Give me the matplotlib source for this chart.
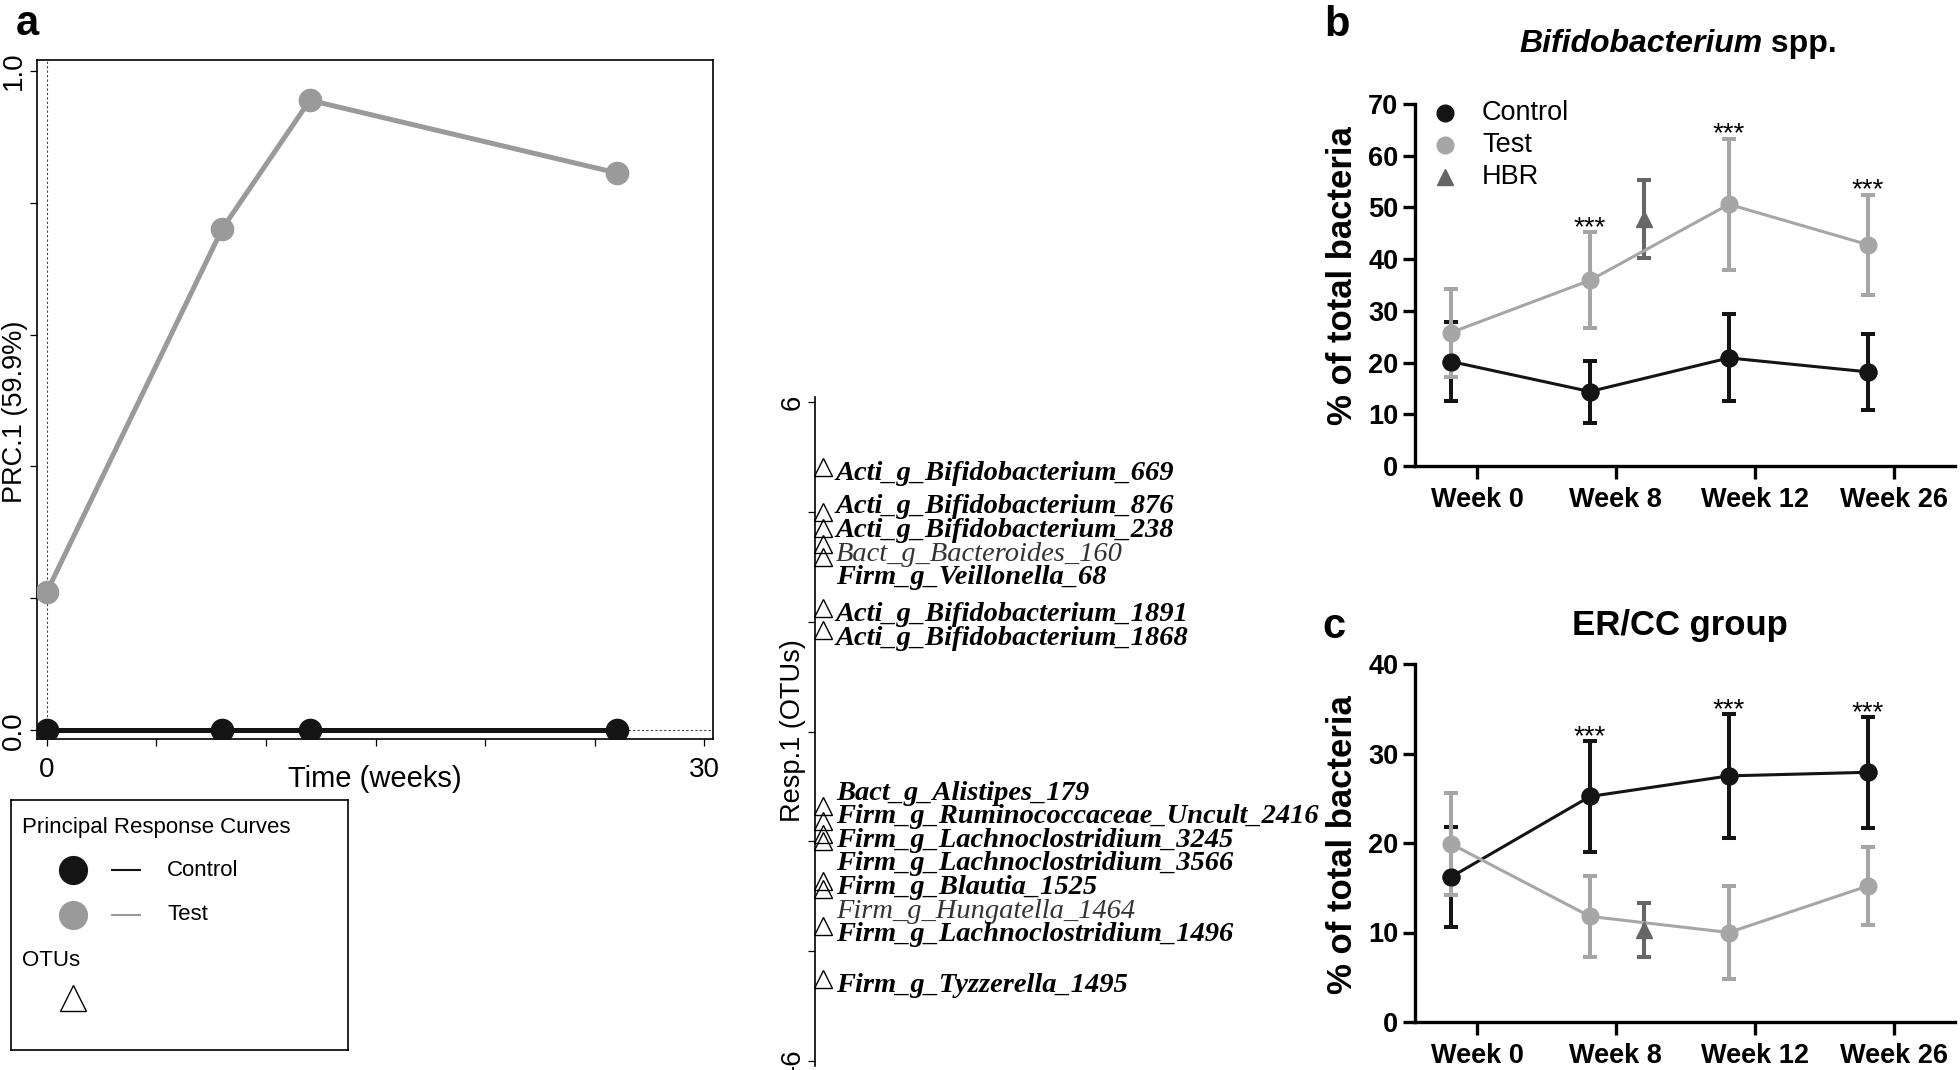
import numpy as np
import matplotlib.pyplot as plt

plt.rcParams['font.family'] = ['Liberation Sans', 'DejaVu Sans']

W, H = 1960, 1070

# panel a: principal response curves
PRC_WEEKS = [0, 8, 12, 26]
PRC_CONTROL = [0.0, 0.0, 0.0, 0.0]
PRC_TEST = [0.21, 0.76, 0.955, 0.845]

OTU_NAMES = ['Acti_g_Bifidobacterium_669', 'Acti_g_Bifidobacterium_876',
             'Acti_g_Bifidobacterium_238', 'Bact_g_Bacteroides_160',
             'Firm_g_Veillonella_68', 'Acti_g_Bifidobacterium_1891',
             'Acti_g_Bifidobacterium_1868', 'Bact_g_Alistipes_179',
             'Firm_g_Ruminococcaceae_Uncult_2416', 'Firm_g_Lachnoclostridium_3245',
             'Firm_g_Lachnoclostridium_3566', 'Firm_g_Blautia_1525',
             'Firm_g_Hungatella_1464', 'Firm_g_Lachnoclostridium_1496',
             'Firm_g_Tyzzerella_1495']
OTU_SCORES = [4.83, 4.00, 3.72, 3.42, 3.18, 2.25, 1.85,
              -1.35, -1.63, -1.87, -1.99, -2.72, -2.88, -3.55, -4.51]
OTU_WEAK = ['Bact_g_Bacteroides_160', 'Firm_g_Hungatella_1464']

# panels b and c
WEEK_LABELS = ['Week 0', 'Week 8', 'Week 12', 'Week 26']
GROUPS = ['Control', 'Test', 'HBR']

BIF_CONTROL = [20.2, 14.4, 20.9, 18.2]
BIF_CONTROL_ERR = [7.6, 6.0, 8.4, 7.4]
BIF_TEST = [25.8, 35.9, 50.6, 42.8]
BIF_TEST_ERR = [8.5, 9.3, 12.7, 9.7]
BIF_HBR = [47.8]
BIF_HBR_ERR = [7.5]
BIF_STARS = [False, True, True, True]      # marked on Test

ER_CONTROL = [16.2, 25.2, 27.5, 27.9]
ER_CONTROL_ERR = [5.6, 6.2, 6.9, 6.2]
ER_TEST = [19.9, 11.8, 10.0, 15.2]
ER_TEST_ERR = [5.7, 4.5, 5.2, 4.4]
ER_HBR = [10.3]
ER_HBR_ERR = [3.0]
ER_STARS = [False, True, True, True]       # marked on Control

BLACK = '#141414'
GREY = '#a6a6a6'
PRC_GREY = '#9a9a9a'
DARK = '#666666'


def add_ax(fig, left, top, right, bottom):
    return fig.add_axes([left / W, 1 - bottom / H, (right - left) / W, (bottom - top) / H])


def fig_text(fig, x, y, s, **kw):
    return fig.text(x / W, 1 - y / H, s, **kw)


def stack_labels(values, gap):
    # keep labels at least `gap` apart, moving them as little as possible
    order = np.argsort(values)[::-1]
    v = np.asarray(values, float)[order]
    w = v + gap * np.arange(len(v))
    blocks = []
    for x in w:
        blocks.append([x, 1])
        while len(blocks) > 1 and blocks[-1][0] / blocks[-1][1] > blocks[-2][0] / blocks[-2][1]:
            s, c = blocks.pop()
            blocks[-1][0] += s
            blocks[-1][1] += c
    fitted = np.concatenate([[s / c] * c for s, c in blocks])
    pos = fitted - gap * np.arange(len(v))
    out = np.empty_like(pos)
    out[order] = pos
    return out


def group_panel(ax, control, control_err, test, test_err, hbr, hbr_err, stars, starred, ymax):
    x = np.arange(len(WEEK_LABELS))
    off = 0.187
    style = dict(lw=2.2, elinewidth=2.9, capsize=5, capthick=2.9, ms=12)
    ax.errorbar(x - off, control, yerr=control_err, color=BLACK, marker='o', zorder=2, **style)
    ax.errorbar(x - off, test, yerr=test_err, color=GREY, marker='o', zorder=3, **style)
    ax.plot(x - off, control, ls='none', marker='o', ms=12, color=BLACK, zorder=4)
    ax.errorbar([1 + 0.2], hbr, yerr=hbr_err, color=DARK, marker='^', ls='none', zorder=3, **style)

    if starred == 'test':
        top = np.array(test) + np.array(test_err)
    else:
        top = np.array(control) + np.array(control_err)
    for i, s in enumerate(stars):
        if s:
            ax.annotate('***', (x[i] - off, top[i]), xytext=(0, -6.5), textcoords='offset points',
                        ha='center', va='bottom', fontsize=20)

    ax.set_xlim(-0.446, 3.44)
    ax.set_ylim(0, ymax)
    ax.set_xticks(x)
    ax.set_xticklabels(WEEK_LABELS, fontsize=19.5, fontweight='bold')
    ax.set_yticks(np.arange(0, ymax + 1, 10))
    ax.set_yticklabels([str(v) for v in range(0, ymax + 1, 10)], fontsize=19.5, fontweight='bold')
    ax.tick_params(axis='y', width=2.4, length=9, pad=3)
    ax.tick_params(axis='x', width=2.4, length=9, pad=6)
    for side in ['top', 'right']:
        ax.spines[side].set_visible(False)
    for side in ['left', 'bottom']:
        ax.spines[side].set_linewidth(2.4)


fig = plt.figure(figsize=(W / 100, H / 100), dpi=100)

# ---- panel a: PRC curves
ax = add_ax(fig, 37, 60, 713, 739)
ax.axvline(0, color='#444444', lw=0.8, ls=(0, (2, 2)))
ax.axhline(0, color='#444444', lw=0.8, ls=(0, (2, 2)))
ax.plot(PRC_WEEKS, PRC_CONTROL, color=BLACK, lw=3.6, marker='o', ms=16, zorder=3)
ax.plot(PRC_WEEKS, PRC_TEST, color=PRC_GREY, lw=3.6, marker='o', ms=16, zorder=3)
ax.set_xlim(-0.45, 30.4)
ax.set_ylim(-0.013, 1.016)
ax.set_xticks(np.arange(0, 31, 5))
ax.set_xticklabels(['0', '', '', '', '', '', '30'], fontsize=20)
ax.set_yticks(np.arange(0, 1.01, 0.2))
ax.set_yticklabels(['0.0', '', '', '', '', '1.0'], fontsize=20, rotation=90, va='center')
ax.tick_params(axis='y', length=5, width=0.9, pad=2)
ax.tick_params(axis='x', length=5, width=0.9, pad=8)
for sp in ax.spines.values():
    sp.set_linewidth(1.2)
ax.set_xlabel('Time (weeks)', fontsize=21)
ax.xaxis.set_label_coords(0.5, -0.038)
fig_text(fig, 15, 412, 'PRC.1 (59.9%)', fontsize=19.5, rotation=90, ha='center', va='center')

# ---- panel a: OTU response axis
ax2 = add_ax(fig, 815, 397, 1300, 1066)
ax2.set_ylim(-6.1, 6.1)
ax2.set_xlim(0, 1)
for side in ['top', 'right', 'bottom']:
    ax2.spines[side].set_visible(False)
ax2.spines['left'].set_linewidth(1.2)
ax2.set_xticks([])
ax2.set_yticks(np.arange(-6, 7, 2))
ax2.set_yticklabels(['-6', '', '', '', '', '', '6'], fontsize=20, rotation=90, va='center')
ax2.tick_params(axis='y', length=5, width=0.9, pad=2)
fig_text(fig, 793, 731, 'Resp.1 (OTUs)', fontsize=19.5, rotation=90, ha='center', va='center')
ax2.plot(np.full(len(OTU_SCORES), 0.017), OTU_SCORES, ls='none', marker='^', ms=13,
         mfc='none', mec='black', mew=1.0, clip_on=False)
label_y = stack_labels(OTU_SCORES, 0.43)
for name, yy in zip(OTU_NAMES, label_y):
    weak = name in OTU_WEAK
    ax2.text(0.043, yy - 0.13, name, ha='left', va='center', fontsize=20.5,
             family='Liberation Serif', style='italic',
             fontweight='normal' if weak else 'bold', color='#333333' if weak else 'black')

# ---- panel a: legend box
lg = add_ax(fig, 11, 800, 348, 1050)
lg.set_xlim(0, 337)
lg.set_ylim(250, 0)
lg.set_xticks([])
lg.set_yticks([])
for sp in lg.spines.values():
    sp.set_linewidth(1.2)
lg.text(11, 28, 'Principal Response Curves', va='center', fontsize=16)
lg.plot([62], [70], 'o', color=BLACK, ms=20)
lg.plot([101, 129], [70, 70], color=BLACK, lw=1.5)
lg.text(156, 70, 'Control', va='center', fontsize=16)
lg.plot([62], [115], 'o', color=PRC_GREY, ms=20)
lg.plot([101, 129], [115, 115], color=PRC_GREY, lw=1.5)
lg.text(156, 115, 'Test', va='center', fontsize=16)
lg.text(11, 161, 'OTUs', va='center', fontsize=16)
lg.plot([62], [198], '^', mfc='none', mec='black', mew=1.0, ms=19)

# ---- panel b
B_TOP, B_BOT = 104, 466
axb = add_ax(fig, 1415, B_TOP, 1955, B_BOT)
group_panel(axb, BIF_CONTROL, BIF_CONTROL_ERR, BIF_TEST, BIF_TEST_ERR,
            BIF_HBR, BIF_HBR_ERR, BIF_STARS, 'test', 70)
fig_text(fig, 1342, 276, '% of total bacteria', fontsize=25, fontweight='bold',
         rotation=90, ha='center', va='center')

# legend of panel b, drawn by hand
for name, marker, color, row in zip(GROUPS, ['o', 'o', '^'], [BLACK, GREY, DARK], [113, 145, 177]):
    yy = (B_BOT - row) / (B_BOT - B_TOP)
    axb.plot([30 / 540], [yy], marker=marker, ms=12, color=color, ls='none',
             transform=axb.transAxes, clip_on=False)
    axb.text(67 / 540, yy, name, transform=axb.transAxes, ha='left', va='center', fontsize=19.5)

# title with an italic genus name
t1 = fig_text(fig, 0, 44, 'Bifidobacterium', fontsize=23, fontweight='bold', style='italic', va='center')
t2 = fig_text(fig, 0, 44, ' spp.', fontsize=23, fontweight='bold', va='center')

# ---- panel c
C_TOP, C_BOT = 664, 1022
axc = add_ax(fig, 1415, C_TOP, 1955, C_BOT)
group_panel(axc, ER_CONTROL, ER_CONTROL_ERR, ER_TEST, ER_TEST_ERR,
            ER_HBR, ER_HBR_ERR, ER_STARS, 'control', 40)
fig_text(fig, 1342, 845, '% of total bacteria', fontsize=25, fontweight='bold',
         rotation=90, ha='center', va='center')
fig_text(fig, 1680, 625, 'ER/CC group', ha='center', va='center', fontsize=25, fontweight='bold')

# panel letters
fig_text(fig, 16, 24, 'a', ha='left', va='center', fontsize=30, fontweight='bold')
fig_text(fig, 1324, 25, 'b', ha='left', va='center', fontsize=30, fontweight='bold')
fig_text(fig, 1322, 627, 'c', ha='left', va='center', fontsize=30, fontweight='bold')

# centre the two-part title
fig.canvas.draw()
r = fig.canvas.get_renderer()
w1 = t1.get_window_extent(r).width
w2 = t2.get_window_extent(r).width
x0 = 1678 - (w1 + w2) / 2
t1.set_x(x0 / W)
t2.set_x((x0 + w1) / W)

fig.savefig('out.png', dpi=100)
